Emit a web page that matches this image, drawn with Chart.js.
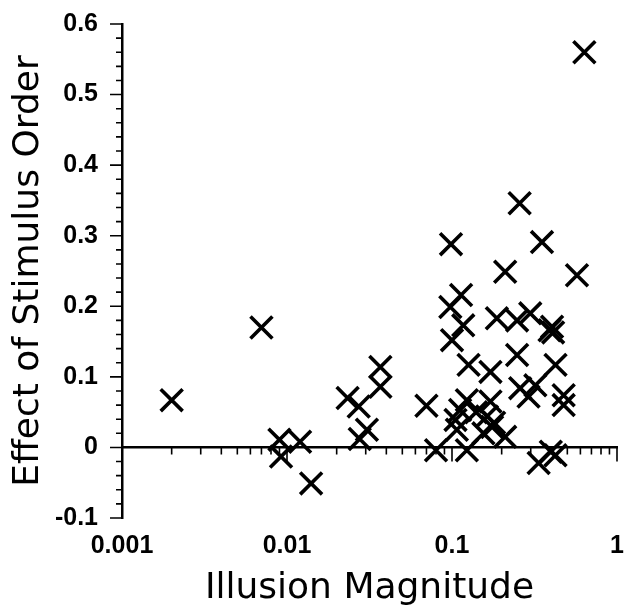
<!DOCTYPE html>
<html>
<head>
<meta charset="utf-8">
<script src="https://cdn.jsdelivr.net/npm/chart.js@4/dist/chart.umd.min.js"></script>
<style>
  html, body { margin: 0; padding: 0; background: #fff; }
  #wrap { width: 626px; height: 610px; }
</style>
</head>
<body>
<div id="wrap"><canvas id="chart" width="626" height="610"></canvas></div>
<script>
// illusion magnitude (x, log) and effect of stimulus order (y)
const illusionMagnitude = [
    0.002, 0.007, 0.0090, 0.0092, 0.012, 0.014,
    0.0233, 0.0272, 0.0368, 0.0368, 0.0305, 0.0276,
    0.070, 0.080, 0.0977, 0.0986, 0.100, 0.117, 0.1135, 0.126,
    0.171, 0.187, 0.210, 0.248, 0.248, 0.257, 0.298, 0.351,
    0.404, 0.41, 0.39, 0.634, 0.572, 0.259, 0.320, 0.291,
    0.424, 0.475, 0.475, 0.210, 0.335, 0.424, 0.397,
    0.123, 0.112, 0.105, 0.171, 0.163, 0.175, 0.155, 0.123, 0.107, 0.14, 0.18
];
const stimulusOrderEffect = [
    0.067, 0.170, 0.011, -0.013, 0.008, -0.051,
    0.070, 0.058, 0.114, 0.086, 0.025, 0.012,
    0.059, -0.004, 0.199, 0.288, 0.152, 0.173, 0.216, 0.117,
    0.107, 0.183, 0.249, 0.180, 0.131, 0.346, 0.190, 0.291,
    0.171, 0.163, 0.166, 0.560, 0.244, 0.084, 0.088, 0.072,
    0.117, 0.074, 0.060, 0.015, -0.022, -0.011, -0.006,
    0.067, 0.053, 0.039, 0.065, 0.044, 0.029, 0.020, -0.004, 0.025, 0.050, 0.035
];

const xTickValues = [0.001, 0.01, 0.1, 1];
const xTickLabels = ['0.001', '0.01', '0.1', '1'];
const yTickValues = [-0.1, 0, 0.1, 0.2, 0.3, 0.4, 0.5, 0.6];
const yTickLabels = ['-0.1', '0', '0.1', '0.2', '0.3', '0.4', '0.5', '0.6'];

const points = illusionMagnitude.map((x, i) => ({ x: x, y: stimulusOrderEffect[i] }));

// tick marks: long at labelled values, short in between
const axisTicks = {
    id: 'axisTicks',
    afterDraw(chart) {
        const ctx = chart.ctx;
        const xs = chart.scales.x;
        const ys = chart.scales.y;
        const left = chart.chartArea.left;
        const zeroY = ys.getPixelForValue(0);
        ctx.save();
        ctx.strokeStyle = '#000';
        ctx.lineWidth = 1.6;
        ctx.beginPath();
        for (let i = 0; i <= 35; i++) {
            const v = -0.1 + i * 0.02;
            const py = ys.getPixelForValue(v);
            const len = (i % 5 === 0) ? 12 : 6;
            ctx.moveTo(left, py);
            ctx.lineTo(left - len, py);
        }
        for (let d = -3; d < 0; d++) {
            for (let m = 1; m <= 10; m++) {
                if (d === -3 && m === 1) continue;
                const px = xs.getPixelForValue(m * Math.pow(10, d));
                const len = (m === 1 || m === 10) ? 14 : 7;
                ctx.moveTo(px, zeroY);
                ctx.lineTo(px, zeroY + len);
            }
        }
        ctx.stroke();
        ctx.restore();
    }
};

const noSidePadding = (scale) => {
    scale.paddingLeft = 0;
    scale.paddingRight = 0;
};

new Chart(document.getElementById('chart'), {
    type: 'scatter',
    data: {
        datasets: [{
            data: points,
            pointStyle: 'crossRot',
            pointRadius: 15.5,
            pointHoverRadius: 15.5,
            borderColor: '#000',
            backgroundColor: '#000',
            borderWidth: 3.6
        }]
    },
    options: {
        responsive: false,
        animation: false,
        events: [],
        layout: { autoPadding: false, padding: { top: 24, right: 9, left: 0, bottom: 0 } },
        plugins: { legend: { display: false }, tooltip: { enabled: false } },
        scales: {
            x: {
                type: 'logarithmic',
                position: { y: 0 },
                min: 0.001,
                max: 1,
                grid: { display: false },
                border: { display: true, color: '#000', width: 2.5 },
                ticks: { display: false },
                afterFit: noSidePadding
            },
            x2: {
                type: 'logarithmic',
                position: 'bottom',
                min: 0.001,
                max: 1,
                grid: { display: true, drawOnChartArea: false, drawTicks: true, tickLength: 13, tickColor: 'rgba(0,0,0,0)' },
                border: { display: false },
                afterBuildTicks: (scale) => {
                    scale.ticks = xTickValues.map(v => ({ value: v }));
                },
                afterFit: (scale) => {
                    scale.height = 92;
                    noSidePadding(scale);
                },
                ticks: {
                    autoSkip: false,
                    maxRotation: 0,
                    padding: 0,
                    color: '#000',
                    font: { family: 'Liberation Sans', size: 25, weight: 'bold' },
                    callback: (v) => xTickLabels[xTickValues.indexOf(v)]
                },
                title: {
                    display: true,
                    text: 'Illusion Magnitude',
                    color: '#000',
                    padding: { top: 0, bottom: 0 },
                    font: { family: 'DejaVu Sans', size: 36 }
                }
            },
            y: {
                min: -0.1,
                max: 0.6,
                grid: { display: false },
                border: { display: true, color: '#000', width: 2.5 },
                afterBuildTicks: (scale) => {
                    scale.ticks = yTickValues.map(v => ({ value: v }));
                },
                afterFit: (scale) => {
                    scale.width = 122;
                    scale.paddingTop = 0;
                    scale.paddingBottom = 0;
                },
                ticks: {
                    autoSkip: false,
                    padding: 16,
                    color: '#000',
                    font: { family: 'Liberation Sans', size: 25, weight: 'bold' },
                    callback: (v) => yTickLabels[yTickValues.findIndex(t => Math.abs(t - v) < 1e-9)]
                },
                title: {
                    display: true,
                    text: 'Effect of Stimulus Order',
                    color: '#000',
                    padding: { top: 7, bottom: 0 },
                    font: { family: 'DejaVu Sans', size: 36 }
                }
            }
        }
    },
    plugins: [axisTicks]
});
</script>
</body>
</html>
